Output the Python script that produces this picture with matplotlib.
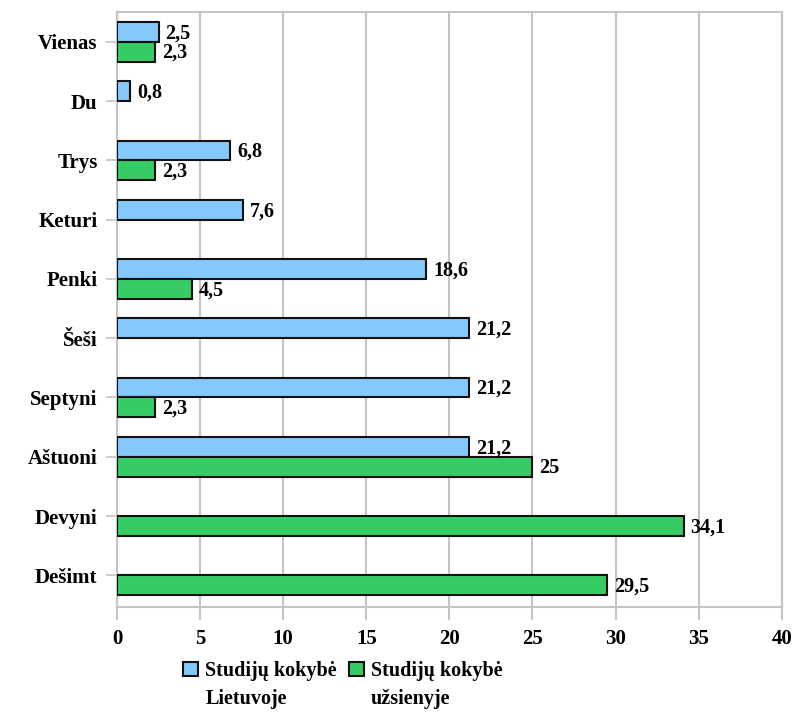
import matplotlib.pyplot as plt
import numpy as np

plt.rcParams['font.family'] = ['Liberation Serif', 'DejaVu Serif']
plt.rcParams['font.weight'] = 'bold'

categories = ['Vienas', 'Du', 'Trys', 'Keturi', 'Penki', 'Šeši',
              'Septyni', 'Aštuoni', 'Devyni', 'Dešimt']
lietuvoje = [2.5, 0.8, 6.8, 7.6, 18.6, 21.2, 21.2, 21.2, None, None]
uzsienyje = [2.3, None, 2.3, None, 4.5, None, 2.3, 25, 34.1, 29.5]
series_first = ['Studijų kokybė', 'Studijų kokybė']
series_second = ['Lietuvoje', 'užsienyje']

blue = '#85c8fc'
green = '#35cc65'
grey = '#c4c4c4'

fig = plt.figure(figsize=(7.96, 7.13), dpi=100)
ax = fig.add_axes([0.147, 0.149, 0.835, 0.834])

y = np.arange(len(categories))
h = 0.333


def fmt(v):
    return ('%g' % v).replace('.', ',')


handles = []
for vals, col, off in [(lietuvoje, blue, -h / 2), (uzsienyje, green, h / 2)]:
    idx = [i for i, v in enumerate(vals) if v is not None]
    v = [vals[i] for i in idx]
    b = ax.barh(y[idx] + off, v, height=h, color=col, edgecolor='#111111',
                linewidth=1.5, zorder=3)
    handles.append(b)
    for i, val in zip(idx, v):
        ax.annotate(fmt(val), (val, y[i] + off), xytext=(5, -1),
                    textcoords='offset points', va='center', ha='left',
                    fontsize=14.5, fontweight='bold', zorder=4)

ax.set_xlim(0, 40)
ax.set_ylim(len(categories) - 0.47, -0.5)
ax.set_xticks(range(0, 41, 5))
ax.set_yticks(y)
ax.set_yticklabels(categories)
ax.xaxis.grid(True, color=grey, linewidth=1.5, zorder=0)
for s in ax.spines.values():
    s.set_color(grey)
    s.set_linewidth(1.5)
ax.tick_params(axis='x', length=9, width=1.5, color=grey, pad=7,
               labelsize=15)
ax.tick_params(axis='y', length=8, width=1.2, color=grey, pad=6,
               labelsize=15)

leg = fig.legend(handles, series_first, loc='center left',
                 bbox_to_anchor=(0.23, 0.059), ncol=2, frameon=False,
                 fontsize=14.5, handlelength=0.75, handleheight=0.75,
                 handletextpad=0.35, columnspacing=0.6, borderaxespad=0,
                 borderpad=0)

# second line of each legend label, set under the first line
fig.canvas.draw()
inv = fig.transFigure.inverted()
for t, second in zip(leg.get_texts(), series_second):
    bb = t.get_window_extent()
    x0, y0 = inv.transform((bb.x0, bb.y0))
    fig.text(x0, y0 - 0.011, second, ha='left', va='top', fontsize=14.5,
             fontweight='bold')

fig.savefig('out.png', dpi=100)
